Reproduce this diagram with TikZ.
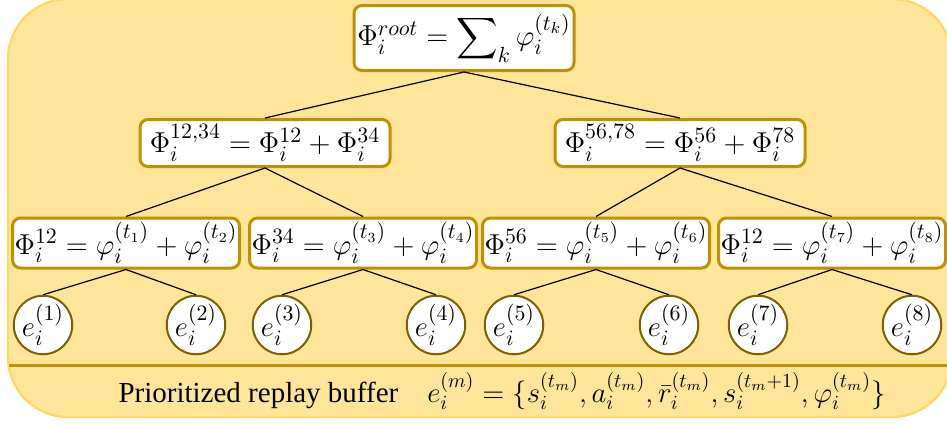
\documentclass[tikz,border=0pt]{standalone}
\usepackage{amsmath}
\usepackage[no-math]{fontspec}
\usepackage{tikz}
\usetikzlibrary{positioning}
\definecolor{bufyellow}{HTML}{FFE599}
\definecolor{bufedge}{HTML}{FFD966}
\definecolor{treegold}{HTML}{BF9000}
\definecolor{leafbrown}{HTML}{7F6000}
\newfontfamily\labelserif{Liberation Serif}

\begin{document}
\begin{tikzpicture}[
  x=0.5pt, y=-0.5pt,
  sumbox/.style={rectangle, draw=treegold, line width=1.5pt, rounded corners=4pt, fill=white,
                 inner sep=0.5pt, minimum width=113.5pt, minimum height=25pt,
                 font=\fontsize{15}{17}\selectfont},
  leaf/.style={circle, draw=leafbrown, line width=1pt, fill=white, inner sep=0pt,
               minimum size=29pt, font=\fontsize{15.5}{17}\selectfont},
  link/.style={line width=0.6pt},
]
\useasboundingbox (0,0) rectangle (947,425);
% buffer panel
\draw[fill=bufyellow, draw=bufedge, line width=1.2pt, rounded corners=30pt] (8,-1) rectangle (952,417);
\draw[treegold, line width=1.5pt] (9,365) -- (951,365);

% sum tree
\node[sumbox, minimum width=110pt, minimum height=32.5pt, font=\fontsize{15.5}{17}\selectfont] (root) at (464,38)
  {$\Phi_i^{root}=\displaystyle\sum\nolimits_k\varphi_i^{(t_k)}$};
\node[sumbox, minimum width=125pt, minimum height=23.5pt] (n1234) at (265,143)
  {$\Phi_i^{12,34}=\Phi_i^{12}+\Phi_i^{34}$};
\node[sumbox, minimum width=125pt, minimum height=23.5pt] (n5678) at (680,143)
  {$\Phi_i^{56,78}=\Phi_i^{56}+\Phi_i^{78}$};
\node[sumbox] (n12) at (126,243) {$\Phi_i^{12}=\varphi_i^{(t_1)}+\varphi_i^{(t_2)}$};
\node[sumbox] (n34) at (363,243) {$\Phi_i^{34}=\varphi_i^{(t_3)}+\varphi_i^{(t_4)}$};
\node[sumbox] (n56) at (596,243) {$\Phi_i^{56}=\varphi_i^{(t_5)}+\varphi_i^{(t_6)}$};
\node[sumbox] (n78) at (832,243) {$\Phi_i^{12}=\varphi_i^{(t_7)}+\varphi_i^{(t_8)}$};

% transitions
\node[leaf] (e1) at (43,325) {$e_i^{(1)}$};
\node[leaf] (e2) at (196,325) {$e_i^{(2)}$};
\node[leaf] (e3) at (282,325) {$e_i^{(3)}$};
\node[leaf] (e4) at (436,325) {$e_i^{(4)}$};
\node[leaf] (e5) at (514,325) {$e_i^{(5)}$};
\node[leaf] (e6) at (669,325) {$e_i^{(6)}$};
\node[leaf] (e7) at (758,325) {$e_i^{(7)}$};
\node[leaf] (e8) at (912,325) {$e_i^{(8)}$};

\draw[link] (root.south) -- (n1234.north);
\draw[link] (root.south) -- (n5678.north);
\draw[link] (n1234.south) -- (n12.north);
\draw[link] (n1234.south) -- (n34.north);
\draw[link] (n5678.south) -- (n56.north);
\draw[link] (n5678.south) -- (n78.north);
\draw[link] (n12.south) -- (e1.north);
\draw[link] (n12.south) -- (e2.north);
\draw[link] (n34.south) -- (e3.north);
\draw[link] (n34.south) -- (e4.north);
\draw[link] (n56.south) -- (e5.north);
\draw[link] (n56.south) -- (e6.north);
\draw[link] (n78.south) -- (e7.north);
\draw[link] (n78.south) -- (e8.north);

\node[font=\fontsize{14.5}{17}\selectfont] (buffer) at (502,391)
  {\labelserif Prioritized replay buffer\quad
   $e_i^{(m)}=\{s_i^{(t_m)},a_i^{(t_m)},\bar{r}_i^{(t_m)},s_i^{(t_m+1)},\varphi_i^{(t_m)}\}$};
\end{tikzpicture}
\end{document}
